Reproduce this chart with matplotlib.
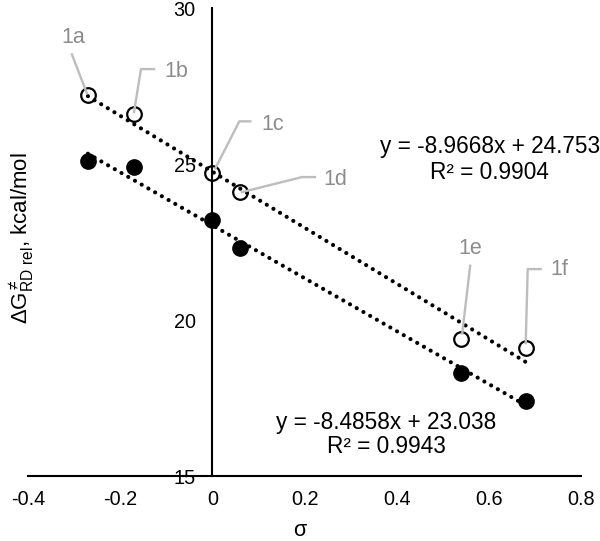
import numpy as np
import matplotlib
matplotlib.use("Agg")
import matplotlib.pyplot as plt
from matplotlib.lines import Line2D

plt.rcParams['font.family'] = ['Liberation Sans', 'DejaVu Sans']
plt.rcParams['mathtext.fontset'] = 'custom'
plt.rcParams['mathtext.rm'] = 'Liberation Sans'
plt.rcParams['mathtext.it'] = 'Liberation Sans'
plt.rcParams['axes.unicode_minus'] = False

# data
labels = ["1a", "1b", "1c", "1d", "1e", "1f"]
sigma = [-0.27, -0.17, 0.0, 0.06, 0.54, 0.68]
dg_open = [27.2, 26.6, 24.7, 24.1, 19.4, 19.1]
dg_filled = [25.1, 24.9, 23.2, 22.3, 18.3, 17.4]

fit_open = (-8.9668, 24.753, 0.9904)
fit_filled = (-8.4858, 23.038, 0.9943)

x_ticks = [-0.4, -0.2, 0, 0.2, 0.4, 0.6, 0.8]
y_ticks = [15, 20, 25, 30]

# label offsets in pixels (text centre, then leader vertices), image y down
label_text_off = [(-15, -58), (42, -43), (60, -49), (95, -13), (9, -90), (34, -79)]
label_leader = [
    [(-16, -41), (-1, -2)],
    [(20, -45), (7, -45), (0, -2)],
    [(38, -52), (27, -52), (3, -5)],
    [(75, -15), (62, -15), (2, 0)],
    [(9, -73), (1, -5)],
    [(15, -79), (2, -79), (0, -5)],
]

fig = plt.figure(figsize=(6, 5.41), dpi=100)
ax = fig.add_axes([28/600, 1-476/541, 553/600, 468/541])
ax.set_xlim(-0.4, 0.8)
ax.set_ylim(15, 30)

# trendlines
for (m, b, r2) in [fit_open, fit_filled]:
    xs = np.array([min(sigma), max(sigma)])
    ax.plot(xs, m*xs + b, color="black", lw=3, linestyle=(0, (0.01, 1.85)),
            dash_capstyle="round", zorder=3)

ax.plot(sigma, dg_filled, "o", color="black", ms=11, zorder=2)
ax.plot(sigma, dg_open, "o", mfc="none", mec="black", mew=1.6, ms=10.5, zorder=2)

# labels with gray leader lines
fig.canvas.draw()
for i, lab in enumerate(labels):
    px, py = ax.transData.transform((sigma[i], dg_open[i]))
    dx, dy = label_text_off[i]
    ax.text(px + dx, py - dy, lab, transform=None, ha="center", va="center",
            fontsize=15.5, color="#8c8c8c")
    xs = [px + o[0] for o in label_leader[i]]
    ys = [py - o[1] for o in label_leader[i]]
    fig.add_artist(Line2D(xs, ys, transform=None, color="#bdbdbd", lw=1.7, zorder=1))

# equations
def eq_text(m, b):
    return "y = {:.4f}x + {:.3f}".format(m, b)

ax.text(0.602, 25.55, eq_text(fit_open[0], fit_open[1]), ha="center", va="center", fontsize=16.3)
ax.text(0.602, 24.74, "R² = {:.4f}".format(fit_open[2]), ha="center", va="center", fontsize=16.3)
ax.text(0.378, 16.73, eq_text(fit_filled[0], fit_filled[1]), ha="center", va="center", fontsize=16.3)
ax.text(0.378, 15.93, "R² = {:.4f}".format(fit_filled[2]), ha="center", va="center", fontsize=16.3)

# axes styling
ax.spines['left'].set_position(('data', 0))
ax.spines['top'].set_visible(False)
ax.spines['right'].set_visible(False)
ax.spines['left'].set_linewidth(1.5)
ax.spines['bottom'].set_linewidth(1.5)
ax.set_xticks(x_ticks)
ax.set_xticklabels(["{:g}".format(t) for t in x_ticks])
ax.set_yticks(y_ticks)
ax.tick_params(axis='y', length=0, pad=12, labelsize=14.3)
ax.tick_params(axis='x', length=0, pad=10, labelsize=14.3)

fig.text(300/600, 1-530/541, "σ", ha="center", va="center", fontsize=15.5)
fig.text(22/600, 1-238/541, r"$\Delta$G$^{\neq}_{\mathrm{RD\ rel}}$, kcal/mol",
         rotation=90, ha="center", va="center", fontsize=16)

plt.savefig("out.png", dpi=100)
